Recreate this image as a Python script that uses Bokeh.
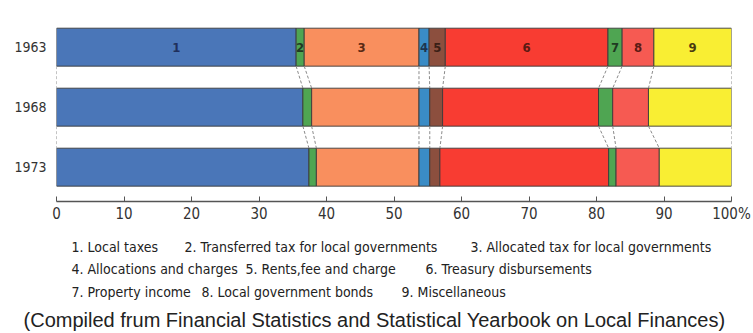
import numpy as np
from bokeh.plotting import figure
from bokeh.models import Range1d, FixedTicker, ColumnDataSource
from bokeh.layouts import column
from bokeh.core.properties import value
from bokeh.embed import file_html
from bokeh.resources import INLINE

# ---------------- data ----------------
years = ["1963", "1968", "1973"]
categories = ["1", "2", "3", "4", "5", "6", "7", "8", "9"]
category_names = [
    "Local taxes",
    "Transferred tax for local governments",
    "Allocated tax for local governments",
    "Allocations and charges",
    "Rents,fee and charge",
    "Treasury disbursements",
    "Property income",
    "Local government bonds",
    "Miscellaneous",
]
share_1963 = [35.5, 1.2, 17.0, 1.5, 2.4, 24.1, 2.1, 4.7, 11.5]
share_1968 = [36.5, 1.3, 15.9, 1.6, 1.9, 23.1, 2.1, 5.3, 12.3]
share_1973 = [37.4, 1.1, 15.2, 1.6, 1.5, 25.0, 1.1, 6.4, 10.7]
x_ticks = [0, 10, 20, 30, 40, 50, 60, 70, 80, 90, 100]
x_tick_labels = ["0", "10", "20", "30", "40", "50", "60", "70", "80", "90", "100%"]
source_note = "(Compiled frum Financial Statistics and Statistical Yearbook on Local Finances)"

# ---------------- styles ----------------
colors = ["#4a76b8", "#4fa552", "#f98f5e", "#3a8cc6", "#8c4f3e",
          "#f83c32", "#4fa552", "#f65a52", "#f9ee33"]
label_colors = ["#1f2f5c", "#1f3a22", "#5a2a14", "#1d3550", "#3a1f16",
                "#5a1a14", "#1f3a22", "#5a1a14", "#4a3a10"]
NARROW = "DejaVu Sans Condensed"
SANS = "Liberation Sans"
W = 753
TOP_H = 226
BAR_H = 0.633

shares = [share_1963, share_1968, share_1973]

p = figure(width=W, height=TOP_H, output_backend="svg", toolbar_location=None,
           x_range=Range1d(0, 100), y_range=Range1d(2.572, -0.778))
p.min_border_left = 56
p.min_border_right = 22
p.min_border_top = 0
p.min_border_bottom = 25
p.outline_line_color = None
p.xgrid.visible = False
p.ygrid.visible = False
p.background_fill_color = "white"
p.border_fill_color = "white"

# bars
rows = {"y": [], "left": [], "right": [], "color": []}
for i, vals in enumerate(shares):
    cum = np.concatenate([[0], np.cumsum(vals)])
    for k in range(len(vals)):
        rows["y"].append(i)
        rows["left"].append(cum[k])
        rows["right"].append(cum[k + 1])
        rows["color"].append(colors[k])
p.hbar(y="y", left="left", right="right", height=BAR_H, fill_color="color",
       line_color="#3a3a3a", line_width=0.9, source=ColumnDataSource(rows))

# connector dashed lines
cx0, cy0, cx1, cy1 = [], [], [], []
for i in range(len(shares) - 1):
    a = np.concatenate([[0], np.cumsum(shares[i])])
    b = np.concatenate([[0], np.cumsum(shares[i + 1])])
    for k in range(len(a)):
        cx0.append(a[k]); cy0.append(i + BAR_H / 2)
        cx1.append(b[k]); cy1.append(i + 1 - BAR_H / 2)
p.segment(x0=cx0, y0=cy0, x1=cx1, y1=cy1, line_color="#8a8a8a",
          line_width=1, line_dash="3 2")

# category numbers inside first bar
c0 = np.concatenate([[0], np.cumsum(share_1963)])
mids = (c0[:-1] + c0[1:]) / 2
p.text(x=list(mids), y=[0] * len(mids), text=categories, text_color=label_colors,
       text_align="center", text_baseline="middle", text_font_size="13px",
       text_font=value(NARROW), text_font_style="bold")

# axes
xa = p.xaxis[0]
xa.ticker = FixedTicker(ticks=x_ticks)
xa.major_label_overrides = {t: l for t, l in zip(x_ticks, x_tick_labels)}
xa.minor_tick_line_color = None
xa.major_tick_in = 5
xa.major_tick_out = 0
xa.axis_line_color = "#555555"
xa.axis_line_width = 1.3
xa.major_tick_line_color = "#555555"
xa.major_label_standoff = 3
xa.major_label_text_font = NARROW
xa.major_label_text_font_size = "15px"
xa.major_label_text_color = "#333333"

ya = p.yaxis[0]
ya.ticker = FixedTicker(ticks=list(range(len(years))))
ya.major_label_overrides = {i: y for i, y in enumerate(years)}
ya.axis_line_color = None
ya.major_tick_line_color = None
ya.minor_tick_line_color = None
ya.major_label_standoff = 4
ya.major_label_text_font = NARROW
ya.major_label_text_font_size = "14px"
ya.major_label_text_color = "#333333"

# ---------------- legend / note ----------------
q = figure(width=W, height=333 - TOP_H, output_backend="svg", toolbar_location=None,
           x_range=Range1d(0, W), y_range=Range1d(333 - TOP_H, 0),
           x_axis_location=None, y_axis_location=None, min_border=0)
q.outline_line_color = None
q.grid.visible = False
for fig in (p, q):
    if "frame_align" in fig.properties():
        fig.frame_align = False

legend_rows = [[0, 1, 2], [3, 4, 5], [6, 7, 8]]
legend_x = [[71, 184, 470], [71, 245, 425], [71, 201, 401]]
legend_y = [20, 42, 65]
lx, ly, lt = [], [], []
for r, items in enumerate(legend_rows):
    for j, k in enumerate(items):
        lx.append(legend_x[r][j])
        ly.append(legend_y[r])
        lt.append(f"{categories[k]}. {category_names[k]}")
q.text(x=lx, y=ly, text=lt, text_align="left", text_baseline="middle",
       text_font_size="14px", text_font=value(NARROW), text_color="#222222")
q.text(x=[374], y=[93], text=[source_note], text_align="center",
       text_baseline="middle", text_font_size="20px", text_font=value(SANS),
       text_color="#222222")

layout = column(p, q, spacing=0)
open("out.html", "w").write(file_html(layout, INLINE))
